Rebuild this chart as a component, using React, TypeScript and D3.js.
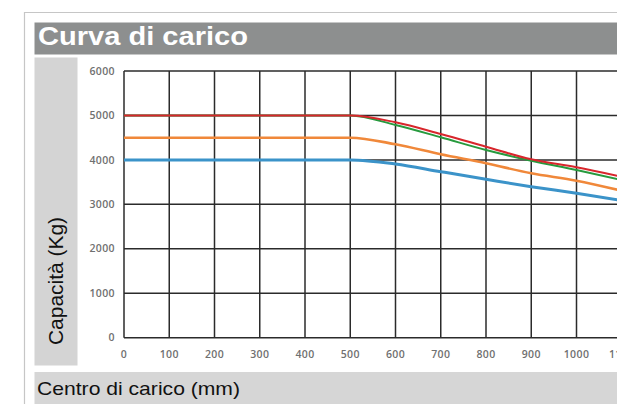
import { useEffect, useRef } from 'react';
import * as d3 from 'd3';

// load centre (mm) where each curve is read
const centres = [0, 500, 600, 700, 800, 900, 1000, 1100];

// capacity (kg) per curve
const redValues = [5000, 5000, 4846, 4583, 4297, 4013, 3834, 3620];
const greenValues = [5000, 5000, 4785, 4509, 4223, 3982, 3773, 3545];
const orangeValues = [4500, 4500, 4351, 4126, 3924, 3699, 3532, 3305];
const blueValues = [4000, 4000, 3908, 3735, 3564, 3397, 3249, 3085];

const xTicks = [0, 100, 200, 300, 400, 500, 600, 700, 800, 900, 1000, 1100];
const yTicks = [0, 1000, 2000, 3000, 4000, 5000, 6000];

const series = [
  { name: 'blue', values: blueValues, color: '#3b93c9', width: 3 },
  { name: 'orange', values: orangeValues, color: '#f0883a', width: 2.6 },
  { name: 'green', values: greenValues, color: '#279a3e', width: 2 },
  { name: 'red', values: redValues, color: '#d8262c', width: 2 },
];

export default function App() {
  const svgRef = useRef<SVGSVGElement>(null);

  useEffect(() => {
    if (!svgRef.current) return;
    const W = 617;
    const H = 404;
    const svg = d3.select(svgRef.current);
    svg.selectAll('*').remove();

    // frame
    svg.append('rect').attr('width', W).attr('height', H).attr('fill', '#fff');
    svg
      .append('path')
      .attr('d', `M24.5,${H} V12.5 H${W}`)
      .attr('fill', 'none')
      .attr('stroke', '#c6c6c6')
      .attr('stroke-width', 1.2);

    // title bar
    svg.append('rect').attr('x', 34.5).attr('y', 22.5).attr('width', W).attr('height', 32).attr('fill', '#8d8f8f');
    svg
      .append('text')
      .attr('x', 38)
      .attr('y', 45)
      .attr('font-family', 'Liberation Sans, Arial, sans-serif')
      .attr('font-weight', 'bold')
      .attr('font-size', 25)
      .attr('fill', '#fff')
      .attr('textLength', 210)
      .attr('lengthAdjust', 'spacingAndGlyphs')
      .text('Curva di carico');

    // y label band
    svg.append('rect').attr('x', 34.5).attr('y', 57.5).attr('width', 43).attr('height', 308).attr('fill', '#d4d4d4');
    svg
      .append('text')
      .attr('transform', 'translate(63,281) rotate(-90)')
      .attr('text-anchor', 'middle')
      .attr('font-family', 'Liberation Sans, Arial, sans-serif')
      .attr('font-size', 20)
      .attr('fill', '#111')
      .attr('textLength', 128)
      .attr('lengthAdjust', 'spacingAndGlyphs')
      .text('Capacità (Kg)');

    // x label band
    svg.append('rect').attr('x', 34.5).attr('y', 372).attr('width', W).attr('height', 32).attr('fill', '#d6d6d6');
    svg
      .append('text')
      .attr('x', 37)
      .attr('y', 395)
      .attr('font-family', 'Liberation Sans, Arial, sans-serif')
      .attr('font-size', 19)
      .attr('fill', '#111')
      .attr('textLength', 203)
      .attr('lengthAdjust', 'spacingAndGlyphs')
      .text('Centro di carico (mm)');

    const x = d3.scaleLinear().domain([0, 1000]).range([124, 576.5]);
    const y = d3.scaleLinear().domain([0, 6000]).range([337.7, 71]);

    const plot = svg.append('g');

    // grid below, curves over it
    const grid = plot.append('g').attr('stroke', '#2b2b2b').attr('stroke-width', 1.5);
    grid
      .selectAll('line.v')
      .data(xTicks)
      .enter()
      .append('line')
      .attr('x1', (d) => x(d))
      .attr('x2', (d) => x(d))
      .attr('y1', y(6000))
      .attr('y2', y(0));
    grid
      .selectAll('line.h')
      .data(yTicks)
      .enter()
      .append('line')
      .attr('x1', x(0))
      .attr('x2', W + 10)
      .attr('y1', (d) => y(d))
      .attr('y2', (d) => y(d));

    const line = d3
      .line<number>()
      .x((_, i) => x(centres[i]))
      .y((d) => y(d))
      .curve(d3.curveMonotoneX);

    plot
      .selectAll('path.curve')
      .data(series)
      .enter()
      .append('path')
      .attr('class', 'curve')
      .attr('d', (d) => line(d.values))
      .attr('fill', 'none')
      .attr('stroke', (d) => d.color)
      .attr('stroke-width', (d) => d.width);

    // tick labels
    const tickFont = 'Open Sans, DejaVu Sans, sans-serif';
    plot
      .selectAll('text.yt')
      .data(yTicks)
      .enter()
      .append('text')
      .attr('x', 115)
      .attr('y', (d) => y(d))
      .attr('dy', '0.35em')
      .attr('text-anchor', 'end')
      .attr('font-family', tickFont)
      .attr('font-size', 10.5)
      .attr('font-weight', 600)
      .attr('letter-spacing', 0.4)
      .attr('fill', '#707070')
      .text((d) => String(d));
    plot
      .selectAll('text.xt')
      .data(xTicks)
      .enter()
      .append('text')
      .attr('x', (d) => x(d))
      .attr('y', 358)
      .attr('text-anchor', 'middle')
      .attr('font-family', tickFont)
      .attr('font-size', 10.5)
      .attr('font-weight', 600)
      .attr('letter-spacing', 0.4)
      .attr('fill', '#707070')
      .text((d) => String(d));
  }, []);

  return (
    <svg
      ref={svgRef}
      width={617}
      height={404}
      style={{ position: 'absolute', left: 0, top: 0, display: 'block' }}
    />
  );
}
